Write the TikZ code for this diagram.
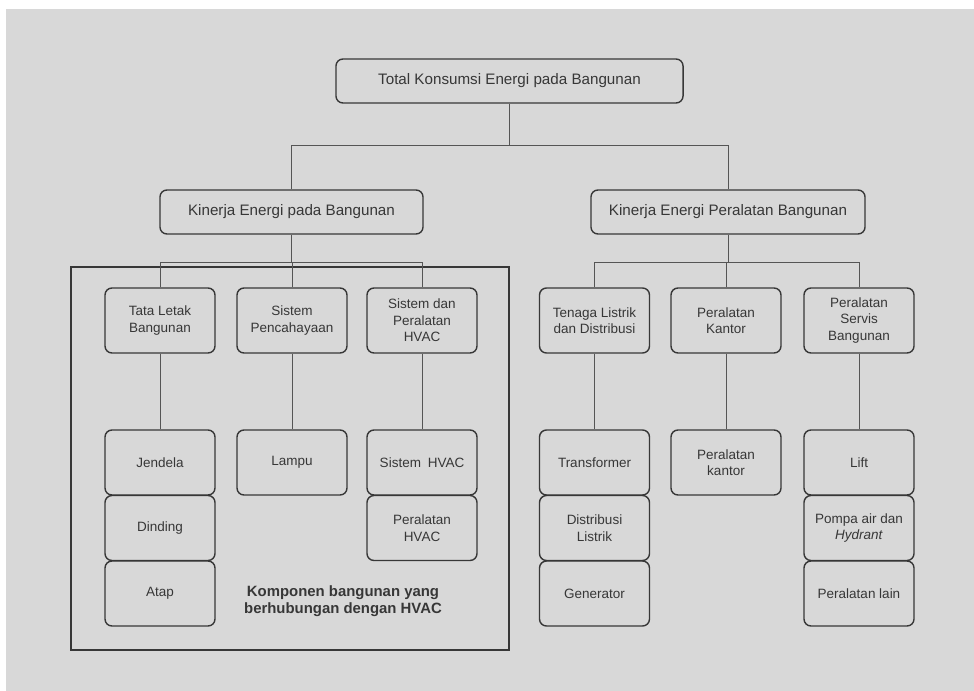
\documentclass[tikz,border=0pt]{standalone}
\usepackage{fontspec}
\setmainfont{Liberation Sans}
\definecolor{bggray}{RGB}{216,216,216}
\definecolor{inkgray}{RGB}{55,55,55}
\begin{document}
\begin{tikzpicture}[x=0.025cm,y=-0.025cm,
  box/.style={draw=inkgray,line width=1pt,rounded corners=5pt,align=center,inner sep=1pt,
    text=inkgray,font=\fontsize{9.6}{11.7}\selectfont},
  main box/.style={box,minimum width=8.675cm,minimum height=1.1cm,font=\fontsize{10.8}{13}\selectfont},
  sub box/.style={box,minimum height=1.1cm,font=\fontsize{10.8}{13}\selectfont},
  item box/.style={box,minimum width=2.75cm,minimum height=1.625cm},
  link/.style={draw=inkgray!85,line width=0.5pt}]
  \useasboundingbox (0,0) rectangle (974,691);
  \fill[white] (0,0) rectangle (974,691);
  \fill[bggray] (6,9) rectangle (974,691);

  \node[main box] at (509.5,81) (total) {Total Konsumsi Energi pada Bangunan};
  \node[sub box,minimum width=6.575cm] at (291.5,212) (kep) {Kinerja Energi pada Bangunan};
  \node[sub box,minimum width=6.85cm] at (728,212) (kpb) {Kinerja Energi Peralatan Bangunan};

  \draw[line width=0.8pt,draw=inkgray] (71,267) rectangle (509,650);

  \node[item box] at (160,320.5) (tata) {Tata Letak\\Bangunan};
  \node[item box] at (292,320.5) (cahaya) {Sistem\\Pencahayaan};
  \node[item box] at (422,320.5) (hvac) {Sistem dan\\Peralatan\\HVAC};
  \node[item box] at (594.5,320.5) (listrik) {Tenaga Listrik\\dan Distribusi};
  \node[item box] at (726,320.5) (kantor) {Peralatan\\Kantor};
  \node[item box] at (859,320.5) (servis) {Peralatan\\Servis\\Bangunan};

  \node[item box] at (160,462.5) (jendela) {Jendela};
  \node[item box] at (160,528) (dinding) {Dinding};
  \node[item box] at (160,593.5) (atap) {Atap};
  \node[item box] at (292,462.5) (lampu) {Lampu};
  \node[item box] at (422,462.5) (shvac) {Sistem\enspace HVAC};
  \node[item box] at (422,528) (phvac) {Peralatan\\HVAC};
  \node[item box] at (594.5,462.5) (trafo) {Transformer};
  \node[item box] at (594.5,528) (distribusi) {Distribusi\\Listrik};
  \node[item box] at (594.5,593.5) (genset) {Generator};
  \node[item box] at (726,462.5) (pkantor) {Peralatan\\kantor};
  \node[item box] at (859,462.5) (lift) {Lift};
  \node[item box] at (859,528) (pompa) {Pompa air dan\\\textit{Hydrant}};
  \node[item box] at (859,593.5) (lain) {Peralatan lain};

  \node[align=center,text=inkgray,font=\fontsize{10.6}{12.5}\selectfont\bfseries] at (343,601) (komponen)
    {Komponen bangunan yang\\berhubungan dengan HVAC};

  \path[link] (total.south) -- ++(0,42) coordinate (bar1);
  \path[link] (kep.north) |- (bar1) -| (kpb.north);
  \path[link] (kep.south) -- ++(0,28) coordinate (bar2);
  \path[link] (tata.north) |- (bar2) -| (hvac.north);
  \path[link] (cahaya.north) -- (cahaya.north |- bar2);
  \path[link] (kpb.south) -- ++(0,28) coordinate (bar3);
  \path[link] (listrik.north) |- (bar3) -| (servis.north);
  \path[link] (kantor.north) -- (kantor.north |- bar3);

  \path[link] (tata.south) -- (jendela.north);
  \path[link] (cahaya.south) -- (lampu.north);
  \path[link] (hvac.south) -- (shvac.north);
  \path[link] (listrik.south) -- (trafo.north);
  \path[link] (kantor.south) -- (pkantor.north);
  \path[link] (servis.south) -- (lift.north);
\end{tikzpicture}
\end{document}
